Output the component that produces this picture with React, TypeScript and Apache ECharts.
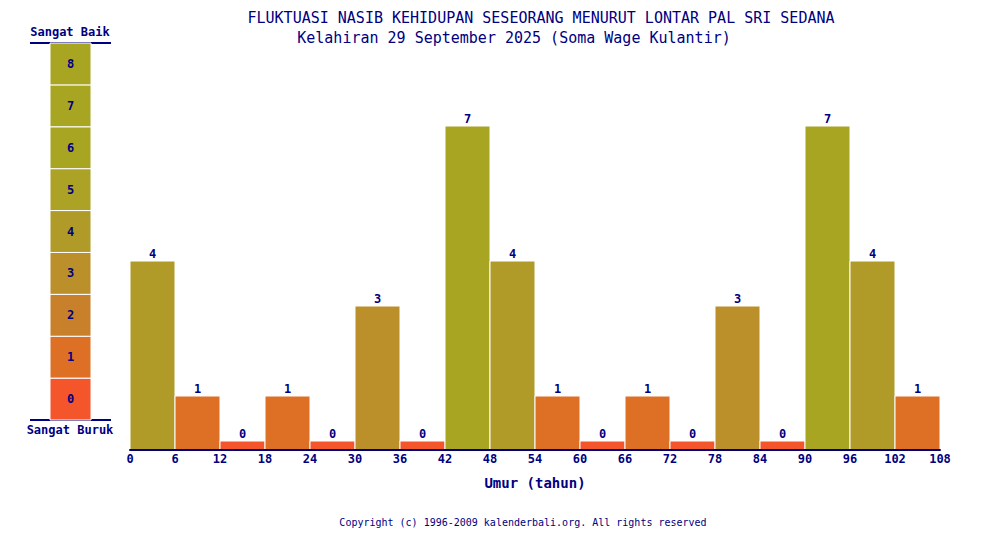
import React, { useEffect, useRef } from "react";
import * as echarts from "echarts";

const titleText = "FLUKTUASI NASIB KEHIDUPAN SESEORANG MENURUT LONTAR PAL SRI SEDANA";
const subtitleText = "Kelahiran 29 September 2025 (Soma Wage Kulantir)";
const copyrightText = "Copyright (c) 1996-2009 kalenderbali.org. All rights reserved";
const xAxisName = "Umur (tahun)";

const ageStarts = [0, 6, 12, 18, 24, 30, 36, 42, 48, 54, 60, 66, 72, 78, 84, 90, 96, 102];
const fortuneValues = [4, 1, 0, 1, 0, 3, 0, 7, 4, 1, 0, 1, 0, 3, 0, 7, 4, 1];
const ageSpan = 6;

const scaleLevels = [0, 1, 2, 3, 4, 5, 6, 7, 8];
const levelColors = ["#f5552b", "#de7026", "#c8802a", "#bb902a", "#b09a28", "#aca226", "#a8a523", "#a8a523", "#a8a523"];
const scaleTopLabel = "Sangat Baik";
const scaleBottomLabel = "Sangat Buruk";

const NAVY = "#000080";
const MONO = "'DejaVu Sans Mono', 'Liberation Mono', monospace";

export default function App() {
  const ref = useRef<HTMLDivElement>(null);
  useEffect(() => {
    if (!ref.current) return;
    const chart = echarts.init(ref.current, null, { renderer: "svg" });
    const barData = ageStarts.map((s, i) => [s, fortuneValues[i]]);
    const option: any = {
      animation: false,
      backgroundColor: "#ffffff",
      grid: [
        { left: 130, right: 68, top: 90, bottom: 108 },
        { left: 50, width: 41, top: 43, height: 377 },
      ],
      xAxis: [
        {
          gridIndex: 0,
          type: "value",
          min: 0,
          max: 108,
          interval: 6,
          z: 5,
          splitLine: { show: false },
          axisTick: { show: false },
          axisLine: { show: true, lineStyle: { color: NAVY, width: 2 } },
          axisLabel: { color: NAVY, fontFamily: MONO, fontWeight: "bold", fontSize: 12, margin: 3 },
          name: xAxisName,
          nameLocation: "middle",
          nameGap: 26,
          nameTextStyle: { color: NAVY, fontFamily: MONO, fontWeight: "bold", fontSize: 14 },
        },
        { gridIndex: 1, type: "value", min: 0, max: 1, show: false },
      ],
      yAxis: [
        { gridIndex: 0, type: "value", min: 0, max: 8, show: false },
        { gridIndex: 1, type: "value", min: 0, max: 9, show: false },
      ],
      series: [
        {
          type: "custom",
          xAxisIndex: 0,
          yAxisIndex: 0,
          data: barData,
          renderItem: (params: any, api: any) => {
            const x0 = api.value(0);
            const v = api.value(1);
            const p0 = api.coord([x0, 0]);
            const p1 = api.coord([x0 + ageSpan, v + 0.2]);
            return {
              type: "group",
              children: [
                {
                  type: "rect",
                  shape: { x: p0[0], y: p1[1], width: p1[0] - p0[0], height: p0[1] - p1[1] },
                  style: { fill: levelColors[v], stroke: "#ffffff", lineWidth: 1 },
                },
                {
                  type: "text",
                  style: {
                    text: String(v),
                    x: (p0[0] + p1[0]) / 2,
                    y: p1[1] - 1,
                    align: "center",
                    verticalAlign: "bottom",
                    fill: NAVY,
                    fontFamily: MONO,
                    fontWeight: "bold",
                    fontSize: 12,
                  },
                },
              ],
            };
          },
        },
        {
          type: "custom",
          xAxisIndex: 1,
          yAxisIndex: 1,
          data: scaleLevels.map((l) => [l]),
          encode: { y: 0 },
          renderItem: (params: any, api: any) => {
            const l = api.value(0);
            const p0 = api.coord([0, l]);
            const p1 = api.coord([1, l + 1]);
            return {
              type: "group",
              children: [
                {
                  type: "rect",
                  shape: { x: p0[0], y: p1[1], width: p1[0] - p0[0], height: p0[1] - p1[1] },
                  style: { fill: levelColors[l], stroke: "#ffffff", lineWidth: 1 },
                },
                {
                  type: "text",
                  style: {
                    text: String(l),
                    x: (p0[0] + p1[0]) / 2,
                    y: (p0[1] + p1[1]) / 2,
                    align: "center",
                    verticalAlign: "middle",
                    fill: NAVY,
                    fontFamily: MONO,
                    fontWeight: "bold",
                    fontSize: 12,
                  },
                },
              ],
            };
          },
        },
      ],
      graphic: [
        {
          type: "text",
          style: { text: titleText, x: 541, y: 18, align: "center", verticalAlign: "middle", fill: NAVY, fontFamily: MONO, fontSize: 15 },
        },
        {
          type: "text",
          style: { text: subtitleText, x: 514, y: 38, align: "center", verticalAlign: "middle", fill: NAVY, fontFamily: MONO, fontSize: 15 },
        },
        {
          type: "text",
          style: { text: copyrightText, x: 523, y: 522, align: "center", verticalAlign: "middle", fill: NAVY, fontFamily: MONO, fontSize: 10 },
        },
        {
          type: "text",
          style: { text: scaleTopLabel, x: 70, y: 32, align: "center", verticalAlign: "middle", fill: NAVY, fontFamily: MONO, fontWeight: "bold", fontSize: 12 },
        },
        {
          type: "text",
          style: { text: scaleBottomLabel, x: 70, y: 430, align: "center", verticalAlign: "middle", fill: NAVY, fontFamily: MONO, fontWeight: "bold", fontSize: 12 },
        },
        { type: "line", shape: { x1: 30, y1: 43, x2: 111, y2: 43 }, style: { stroke: NAVY, lineWidth: 2 } },
        { type: "line", shape: { x1: 30, y1: 420, x2: 111, y2: 420 }, style: { stroke: NAVY, lineWidth: 2 } },
      ],
    };
    chart.setOption(option);
    return () => chart.dispose();
  }, []);
  return <div ref={ref} style={{ position: "absolute", left: 0, top: 0, width: 1008, height: 558 }} />;
}
